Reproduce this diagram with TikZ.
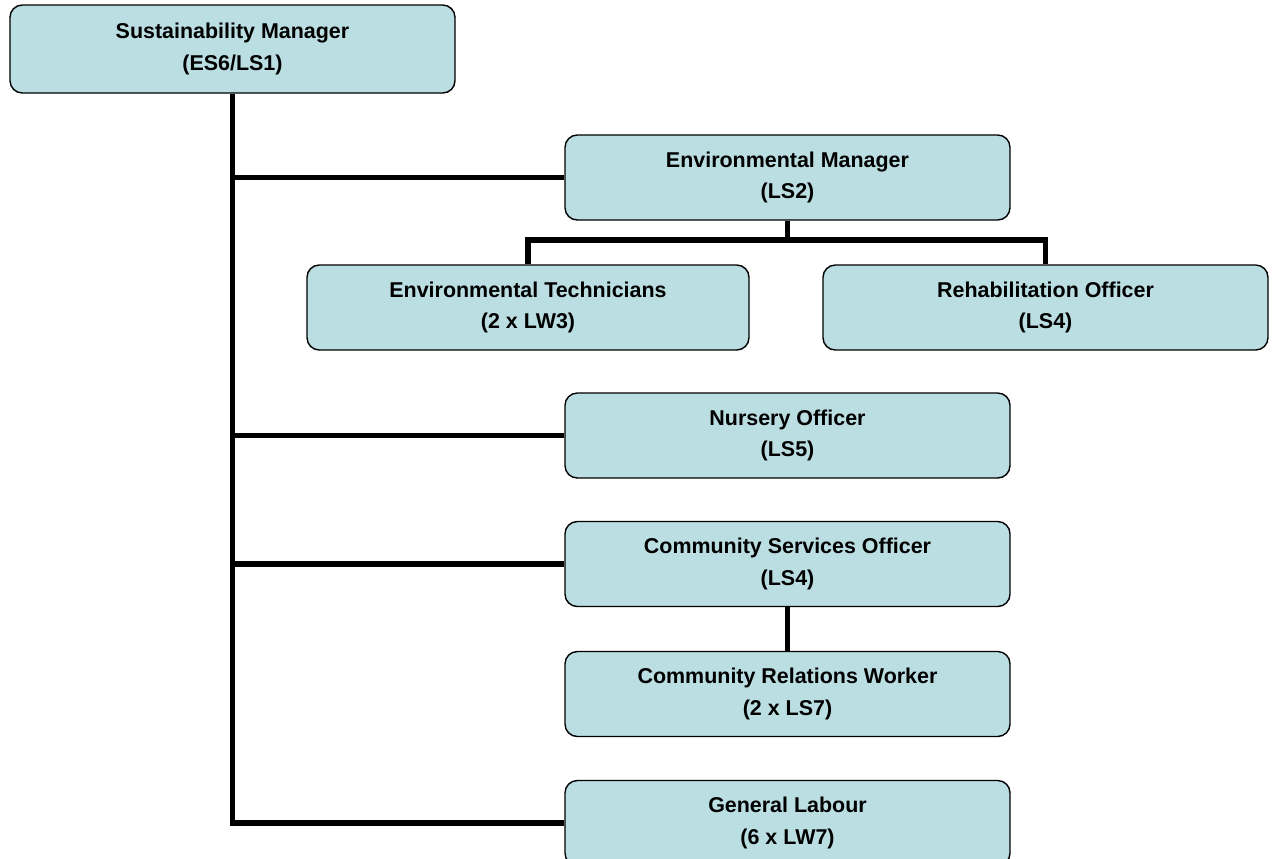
\documentclass[tikz,border=0pt]{standalone}
\usepackage{fontspec}
\setmainfont{Liberation Sans}
\definecolor{cajaazul}{RGB}{186,222,226}
\begin{document}
\begin{tikzpicture}
  [every node/.style={rectangle,rounded corners=7pt,fill=cajaazul,draw=black,thick,
     minimum width=8.9cm,minimum height=1.7cm,align=center,
     font=\fontsize{12.2}{18}\selectfont\bfseries},
   linea/.style={line width=3.3pt}]
  \useasboundingbox (0,0) rectangle (25.5,-17.16);

  % Cajas del organigrama
  \node (sm)  at (4.65,-0.98)  [minimum height=1.76cm] {Sustainability Manager\\(ES6/LS1)};
  \node (em)  at (15.75,-3.55) {Environmental Manager\\(LS2)};
  \node (et)  at (10.56,-6.15) [minimum width=8.84cm] {Environmental Technicians\\(2 x LW3)};
  \node (ro)  at (20.91,-6.15) {Rehabilitation Officer\\(LS4)};
  \node (no)  at (15.75,-8.71) {Nursery Officer\\(LS5)};
  \node (cso) at (15.75,-11.28) {Community Services Officer\\(LS4)};
  \node (crw) at (15.75,-13.88) {Community Relations Worker\\(2 x LS7)};
  \node (gl)  at (15.75,-16.46) {General Labour\\(6 x LW7)};

  % Tronco principal y ramas
  \draw[linea] (sm.south) -- (sm.south |- gl.west) -- (gl.west);
  \draw[linea] (sm.south |- em.west) -- (em.west);
  \draw[linea] (sm.south |- no.west) -- (no.west);
  \draw[linea] (sm.south |- cso.west) -- (cso.west);

  % Ramas bajo el Environmental Manager
  \coordinate (split) at (15.75,-4.8);
  \draw[linea] (em.south) -- (split);
  \draw[linea] (et.north) -- (et.north |- split) -- (ro.north |- split) -- (ro.north);

  % Community Services Officer
  \draw[linea] (cso.south) -- (crw.north);
\end{tikzpicture}
\end{document}
